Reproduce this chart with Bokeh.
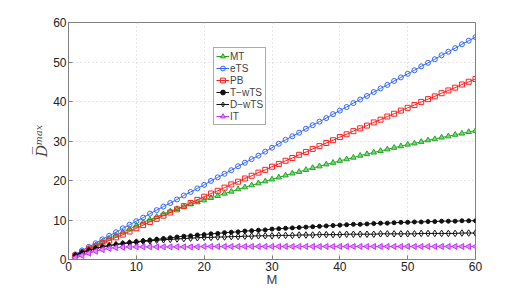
from bokeh.plotting import figure
from bokeh.models import Range1d, FixedTicker
from bokeh.embed import file_html
from bokeh.resources import INLINE

M = list(range(1, 61))

eTS = [1.3, 2.3, 3.2, 4.1, 5.1, 6.0, 6.9, 7.9, 8.8, 9.7,
       10.6, 11.6, 12.5, 13.4, 14.3, 15.2, 16.2, 17.1, 18.0, 18.9,
       19.9, 20.8, 21.7, 22.6, 23.6, 24.5, 25.4, 26.3, 27.3, 28.3,
       29.3, 30.3, 31.2, 32.1, 33.1, 34.0, 34.9, 35.8, 36.8, 37.7,
       38.6, 39.6, 40.5, 41.4, 42.4, 43.3, 44.2, 45.2, 46.1, 47.0,
       47.9, 48.9, 49.8, 50.7, 51.7, 52.6, 53.5, 54.5, 55.4, 56.3]

PB = [1.0, 1.8, 2.6, 3.3, 4.1, 4.8, 5.6, 6.3, 7.1, 7.9,
      8.7, 9.5, 10.3, 11.1, 11.9, 12.7, 13.5, 14.3, 15.1, 15.9,
      16.7, 17.4, 18.2, 19.0, 19.7, 20.5, 21.2, 22.0, 22.7, 23.5,
      24.2, 25.0, 25.7, 26.5, 27.2, 28.0, 28.7, 29.5, 30.2, 31.0,
      31.7, 32.5, 33.2, 33.9, 34.7, 35.4, 36.2, 36.9, 37.7, 38.4,
      39.1, 39.9, 40.6, 41.3, 42.1, 42.8, 43.5, 44.3, 45.0, 45.7]

MT = [1.0, 1.9, 2.8, 3.6, 4.5, 5.3, 6.1, 6.9, 7.7, 8.6,
      9.4, 10.1, 10.8, 11.5, 12.2, 12.8, 13.4, 14.0, 14.5, 15.0,
      15.6, 16.1, 16.7, 17.2, 17.8, 18.3, 18.8, 19.3, 19.8, 20.3,
      20.8, 21.3, 21.8, 22.2, 22.7, 23.2, 23.6, 24.1, 24.5, 25.0,
      25.4, 25.8, 26.3, 26.7, 27.1, 27.5, 27.9, 28.3, 28.7, 29.1,
      29.4, 29.8, 30.2, 30.5, 30.9, 31.2, 31.6, 31.9, 32.3, 32.6]

TwTS = [1.1, 1.8, 2.3, 2.8, 3.2, 3.5, 3.8, 4.1, 4.3, 4.5,
        4.7, 4.9, 5.1, 5.3, 5.5, 5.7, 5.9, 6.0, 6.2, 6.3,
        6.5, 6.6, 6.8, 6.9, 7.0, 7.2, 7.3, 7.4, 7.5, 7.7,
        7.8, 7.9, 8.0, 8.1, 8.2, 8.3, 8.4, 8.5, 8.6, 8.7,
        8.8, 8.9, 8.9, 9.0, 9.1, 9.2, 9.2, 9.3, 9.4, 9.4,
        9.5, 9.5, 9.6, 9.6, 9.7, 9.7, 9.7, 9.8, 9.8, 9.8]

DwTS = [1.0, 1.7, 2.3, 2.8, 3.2, 3.5, 3.8, 4.0, 4.2, 4.4,
        4.6, 4.7, 4.9, 5.0, 5.1, 5.2, 5.3, 5.4, 5.5, 5.6,
        5.6, 5.7, 5.7, 5.8, 5.8, 5.9, 5.9, 6.0, 6.0, 6.0,
        6.1, 6.1, 6.1, 6.2, 6.2, 6.2, 6.3, 6.3, 6.3, 6.3,
        6.4, 6.4, 6.4, 6.4, 6.4, 6.5, 6.5, 6.5, 6.5, 6.5,
        6.5, 6.6, 6.6, 6.6, 6.6, 6.6, 6.6, 6.7, 6.7, 6.7]

IT = [0.4, 1.0, 1.6, 2.1, 2.5, 2.8, 3.0, 3.1, 3.2, 3.2,
      3.2, 3.2, 3.2, 3.2, 3.2, 3.2, 3.2, 3.2, 3.2, 3.3,
      3.3, 3.3, 3.3, 3.3, 3.3, 3.3, 3.3, 3.3, 3.3, 3.3,
      3.3, 3.3, 3.3, 3.3, 3.3, 3.3, 3.3, 3.3, 3.3, 3.3,
      3.3, 3.3, 3.3, 3.3, 3.3, 3.3, 3.3, 3.3, 3.3, 3.3,
      3.3, 3.3, 3.3, 3.3, 3.3, 3.3, 3.3, 3.3, 3.3, 3.3]

x_ticks = [0, 10, 20, 30, 40, 50, 60]
y_ticks = [0, 10, 20, 30, 40, 50, 60]

p = figure(frame_width=407, frame_height=237, output_backend="svg", toolbar_location=None,
           x_range=Range1d(0, 60), y_range=Range1d(0, 60),
           min_border_left=68, min_border_right=43, min_border_top=22, min_border_bottom=20)
p.background_fill_color = "white"
p.border_fill_color = "white"
p.outline_line_color = "#808080"
p.outline_line_width = 1

FONT = "Liberation Sans"
for ax in (p.xaxis[0], p.yaxis[0]):
    ax.axis_line_color = "#808080"
    ax.major_tick_line_color = "#808080"
    ax.major_tick_in = 4
    ax.major_tick_out = 0
    ax.minor_tick_line_color = None
    ax.major_label_text_font = FONT
    ax.major_label_text_font_size = "12px"
    ax.major_label_text_color = "#222222"
    ax.major_label_standoff = 2

p.xaxis.ticker = FixedTicker(ticks=x_ticks)
p.yaxis.ticker = FixedTicker(ticks=y_ticks)
p.xaxis.axis_label = "M"
p.xaxis.axis_label_text_font = FONT
p.xaxis.axis_label_text_font_size = "13px"
p.xaxis.axis_label_text_font_style = "normal"
p.xaxis.axis_label_standoff = -2
p.yaxis.axis_label = "D\u0305\u1d50\u1d43\u02e3"
p.yaxis.axis_label_text_font = "DejaVu Serif"
p.yaxis.axis_label_text_font_size = "15px"
p.yaxis.axis_label_text_font_style = "italic"
p.yaxis.axis_label_standoff = -1

for g in (p.xgrid[0], p.ygrid[0]):
    g.grid_line_color = "#cccccc"
    g.grid_line_dash = "1 3"
    g.grid_line_width = 1

series = [
    ("MT", MT, "#1fa81f", "triangle", "#7fd67f", 5.5),
    ("eTS", eTS, "#3366ff", "circle", None, 5),
    ("PB", PB, "#ff2020", "square", None, 5),
    ("T\u2212wTS", TwTS, "#111111", "circle", "#111111", 4),
    ("D\u2212wTS", DwTS, "#111111", "diamond", None, 6.5),
    ("IT", IT, "#c633ff", "triangle", "#e08cff", 6),
]

for name, ys, col, mk, fill, sz in series:
    p.line(M, ys, line_color=col, line_width=1, legend_label=name)
    if name == "IT":
        p.scatter(M, ys, marker="triangle", angle=1.5708, size=sz, line_color=col,
                  fill_color=fill, line_width=1, legend_label=name)
    else:
        p.scatter(M, ys, marker=mk, size=sz, line_color=col,
                  fill_color=fill if fill else None, line_width=1, legend_label=name)

lg = p.legend[0]
lg.location = (145, 134)
lg.label_text_font = FONT
lg.label_text_font_size = "10px"
lg.label_height = 12
lg.glyph_height = 12
lg.glyph_width = 13
lg.spacing = 0
lg.padding = 2
lg.margin = 0
lg.label_standoff = 1
lg.border_line_color = "#555555"
lg.border_line_width = 1
lg.background_fill_alpha = 1

open("out.html", "w").write(file_html(p, INLINE))
